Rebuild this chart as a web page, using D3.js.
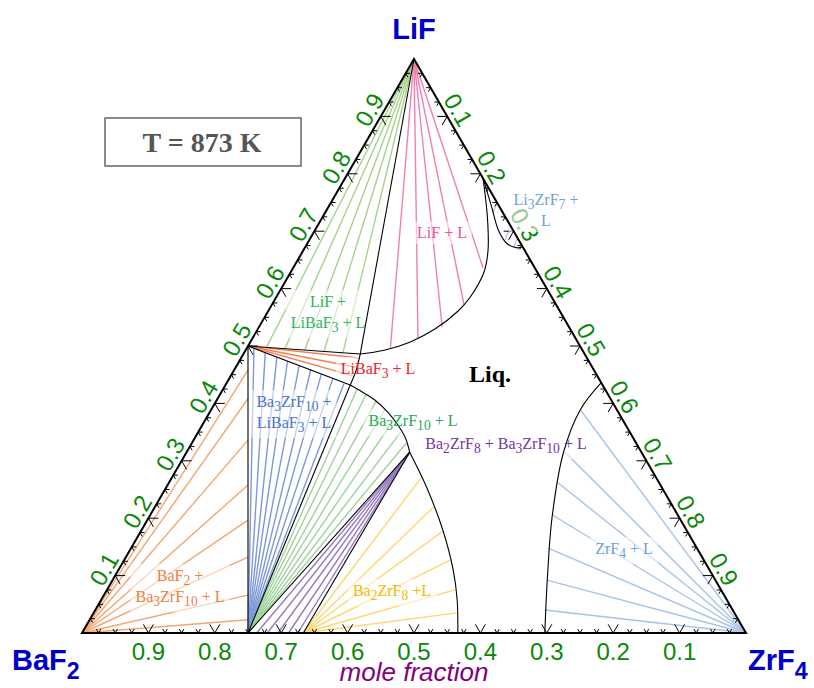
<!DOCTYPE html>
<html>
<head>
<meta charset="utf-8">
<script src="https://cdn.jsdelivr.net/npm/d3@7"></script>
<style>
  body { margin: 0; background: #fff; }
</style>
</head>
<body>
<svg id="chart" width="814" height="688"></svg>
<script>
// Compositions are [xLiF, xZrF4]; xBaF2 = 1 - xLiF - xZrF4.

// Pure components and stoichiometric compounds
const pLiF = [1, 0], pBaF2 = [0, 0], pZrF4 = [0, 1];
const pLiBaF3 = [0.5, 0], pBa3ZrF10 = [0, 0.25], pBa2ZrF8 = [0, 1 / 3], pLi3ZrF7 = [0.75, 0.25];

// Invariant liquid compositions at 873 K
const L1 = [0.486, 0.176];   // LiF + LiBaF3 + L
const L2 = [0.432, 0.188];   // LiBaF3 + Ba3ZrF10 + L
const L3 = [0.315, 0.336];   // Ba3ZrF10 + Ba2ZrF8 + L

// Liquidus boundaries
const lifLiquidus = [[0.792, 0.208], [0.725, 0.248], [0.667, 0.278], [0.629, 0.291], [0.585, 0.292],
  [0.561, 0.286], [0.530, 0.267], [0.507, 0.241], [0.493, 0.210], [0.486, 0.176]];
const li3zrf7Liquidus = [[0.792, 0.208], [0.742, 0.246], [0.702, 0.276], [0.679, 0.300], [0.671, 0.320], [0.673, 0.327]];
const libaf3Liquidus = [[0.486, 0.176], [0.458, 0.184], [0.432, 0.188]];
const ba3zrf10Liquidus = [[0.432, 0.188], [0.420, 0.212], [0.406, 0.238], [0.385, 0.268], [0.362, 0.295], [0.340, 0.317], [0.315, 0.336]];
const ba2zrf8Liquidus = [[0.315, 0.336], [0.254, 0.392], [0.179, 0.454], [0.110, 0.504], [0.058, 0.536], [0, 0.566]];
const zrf4Liquidus = [[0, 0.697], [0.098, 0.652], [0.202, 0.607], [0.314, 0.568], [0.389, 0.556], [0.436, 0.564]];

// Tie-line end compositions
const tiesLiF_L = [[0.497, 0.216], [0.514, 0.249], [0.533, 0.276], [0.571, 0.290], [0.636, 0.286]];
const tiesLiF_LiBaF3 = [[0.498, 0.029], [0.495, 0.058], [0.493, 0.089], [0.491, 0.119], [0.488, 0.149]];
const tiesLiBaF3_L = [[0.479, 0.178], [0.463, 0.181], [0.448, 0.184]];
const tiesBa3_LiBaF3 = [[0.496, 0.011], [0.488, 0.032], [0.481, 0.053], [0.473, 0.073], [0.466, 0.094],
  [0.459, 0.115], [0.451, 0.135], [0.444, 0.156], [0.436, 0.177]];
const tiesBa3_L = [[0.425, 0.202], [0.415, 0.220], [0.404, 0.241], [0.389, 0.262], [0.371, 0.284], [0.350, 0.305], [0.331, 0.323]];
const tiesBa2_Ba3 = [[0, 0.263], [0, 0.279], [0, 0.295], [0, 0.311], [0, 0.325]];
const tiesBa2_L = [[0.272, 0.376], [0.220, 0.420], [0.178, 0.455], [0.127, 0.491], [0.075, 0.524], [0.035, 0.547]];
const tiesZrF4_L = [[0.389, 0.556], [0.315, 0.570], [0.263, 0.584], [0.206, 0.605], [0.148, 0.628], [0.092, 0.654], [0.040, 0.677]];
const tiesBaF2 = [[0.458, 0.021], [0.409, 0.046], [0.336, 0.082], [0.258, 0.121], [0.197, 0.152], [0.132, 0.184], [0.066, 0.217], [0.023, 0.239]];
const tiesLi3ZrF7 = [[[0.749, 0.251], [0.732, 0.252]], [[0.709, 0.291], [0.685, 0.295]], [[0.688, 0.312], [0.674, 0.314]]];

// Axis ticks
const tickLabels = ["0.1", "0.2", "0.3", "0.4", "0.5", "0.6", "0.7", "0.8", "0.9"];
const minorStep = 0.025;

// Ternary -> screen
const xs = d3.scaleLinear().domain([0, 1]).range([82, 746]);
const ys = d3.scaleLinear().domain([0, Math.sqrt(3) / 2]).range([633, 59]);
const P = d => [xs(d[1] + d[0] / 2), ys(d[0] * Math.sqrt(3) / 2)];

const straight = d3.line().x(d => P(d)[0]).y(d => P(d)[1]);
const smooth = d3.line().x(d => P(d)[0]).y(d => P(d)[1]).curve(d3.curveCatmullRom.alpha(0.5));

const svg = d3.select("#chart");
const gTies = svg.append("g").attr("fill", "none").attr("stroke-width", 1.4);
const gTicks = svg.append("g");
const gBg = svg.append("g");
const gBounds = svg.append("g").attr("fill", "none").attr("stroke", "#000");
const gText = svg.append("g");

// ---- tie lines
function fan(from, ends, color) {
  ends.forEach(e => gTies.append("path").attr("d", straight([from, e])).attr("stroke", color));
}
fan(pLiF, tiesLiF_L, "#f080b2");
fan(pLiF, tiesLiF_LiBaF3, "#a8d28c");
fan(pLiBaF3, tiesLiBaF3_L, "#f27d50");
fan(pBa3ZrF10, tiesBa3_LiBaF3, "#7d98d8");
fan(pBa3ZrF10, tiesBa3_L, "#9fd29a");
fan(L3, tiesBa2_Ba3, "#9478c0");
fan(pBa2ZrF8, tiesBa2_L, "#ffd670");
fan(pZrF4, tiesZrF4_L, "#a6c3ea");
fan(pBaF2, tiesBaF2, "#f4a672");
tiesLi3ZrF7.forEach(s => gTies.append("path").attr("d", straight(s)).attr("stroke", "#b4cdee"));

// ---- ticks on the three edges
const nMinor = Math.round(1 / minorStep);
const edges = [
  { at: t => [0, t], dirs: [[-0.5, -0.866], [0.5, -0.866]] },          // bottom (BaF2 - ZrF4)
  { at: t => [t, 0], dirs: [[1, 0], [0.5, 0.866]] },                   // left (BaF2 - LiF)
  { at: t => [1 - t, t], dirs: [[-1, 0], [-0.5, 0.866]] }              // right (LiF - ZrF4)
];
edges.forEach(ed => {
  for (let i = 1; i < nMinor; i++) {
    const t = i * minorStep;
    const [px, py] = P(ed.at(t));
    const len = i % 4 === 0 ? 10 : 4.5;
    const d = ed.dirs.map(v => `M${px + v[0] * len},${py + v[1] * len}L${px},${py}`).join("");
    gTicks.append("path").attr("d", d).attr("stroke", "#000").attr("stroke-width", 1).attr("fill", "none");
  }
});

// ---- tick labels
const tickFont = { family: "'Liberation Sans', Arial, sans-serif", size: 24, color: "#0a880a" };
const off = 13;
function tickText(x, y, rot, lab) {
  gTicks.append("text").attr("transform", `translate(${x},${y}) rotate(${rot})`)
    .attr("text-anchor", "middle").attr("dominant-baseline", "central")
    .attr("font-family", tickFont.family).attr("font-size", tickFont.size)
    .attr("fill", tickFont.color).text(lab);
}
tickLabels.forEach(lab => {
  const v = +lab;
  const [bx, by] = P([0, 1 - v]);           // bottom axis: xBaF2
  tickText(bx, by + 18, 0, lab);
  const [lx, ly] = P([v, 0]);               // left axis: xLiF
  tickText(lx - 0.866 * off, ly - 0.5 * off, -60, lab);
  const [rx, ry] = P([1 - v, v]);           // right axis: xZrF4
  tickText(rx + 0.866 * off, ry - 0.5 * off, 60, lab);
});

// ---- phase boundaries
[[pLiF, L1], [pLiBaF3, L1], [pLiBaF3, L2], [pLiBaF3, pBa3ZrF10], [pBa3ZrF10, L2], [pBa3ZrF10, L3], [pBa2ZrF8, L3]]
  .forEach(s => gBounds.append("path").attr("d", straight(s)).attr("stroke-width", 1.1));
[lifLiquidus, li3zrf7Liquidus, libaf3Liquidus, ba3zrf10Liquidus, ba2zrf8Liquidus, zrf4Liquidus]
  .forEach(c => gBounds.append("path").attr("d", smooth(c)).attr("stroke-width", 1.1));
gBounds.append("path").attr("d", straight([pBaF2, pZrF4, pLiF, pBaF2]) + "Z")
  .attr("stroke-width", 2).attr("stroke-linejoin", "miter");

// ---- text with chemical subscripts ("_n" marks a subscript)
function rich(g, x, y, str, o) {
  const t = g.append("text").attr("x", x).attr("y", y).attr("text-anchor", o.anchor || "middle")
    .attr("font-family", o.family).attr("font-size", o.size).attr("fill", o.color)
    .attr("font-weight", o.weight || "normal").attr("font-style", o.style || "normal");
  const parts = str.split(/(_\d+)/).filter(s => s.length);
  const sh = o.size * (o.subShift || 0.25);
  let inSub = false;
  parts.forEach(p => {
    if (p[0] === "_") {
      t.append("tspan").attr("dy", sh).attr("font-size", o.size * (o.subScale || 0.85)).text(p.slice(1));
      inSub = true;
    } else {
      t.append("tspan").attr("dy", inSub ? -sh : 0).text(p);
      inSub = false;
    }
  });
  return t;
}

const serif = "'Liberation Serif', 'Times New Roman', serif";
const regionLabels = [
  { lines: ["LiF + L"], x: 442, y: 238, color: "#f0509a" },
  { lines: ["Li_3ZrF_7 +", "L"], x: 546, y: 205, color: "#6fa3da" },
  { lines: ["LiF +", "LiBaF_3 + L"], x: 328, y: 307, color: "#2fb35c" },
  { lines: ["LiBaF_3 + L"], x: 378, y: 374, color: "#ee2222" },
  { lines: ["Ba_3ZrF_10 +", "LiBaF_3 + L"], x: 294, y: 407, color: "#4a74c9" },
  { lines: ["Ba_3ZrF_10 + L"], x: 413, y: 426, color: "#22aa55" },
  { lines: ["Ba_2ZrF_8 + Ba_3ZrF_10 + L"], x: 506, y: 449, color: "#7434a4" },
  { lines: ["ZrF_4 + L"], x: 624, y: 554, color: "#6fa3da" },
  { lines: ["Ba_2ZrF_8 +L"], x: 392, y: 596, color: "#f5b800" },
  { lines: ["BaF_2 +", "Ba_3ZrF_10 + L"], x: 180, y: 581, color: "#f08040" }
];
regionLabels.forEach(lb => {
  const g = gText.append("g");
  lb.lines.forEach((s, i) => rich(g, lb.x, lb.y + i * 21, s, { family: serif, size: 16, color: lb.color }));
  const bb = g.node().getBBox();
  gBg.append("rect").attr("x", bb.x - 5).attr("y", bb.y - 3).attr("width", bb.width + 10)
    .attr("height", bb.height + 6).attr("fill", "#fff").attr("fill-opacity", 0.55);
});

// liquid field
gText.append("text").attr("x", 490).attr("y", 382).attr("text-anchor", "middle")
  .attr("font-family", serif).attr("font-size", 24).attr("font-weight", "bold").attr("fill", "#000").text("Liq.");

// ---- component names
const compFont = { family: "'Liberation Sans', Arial, sans-serif", size: 29, color: "#0000c8", weight: "bold", subShift: 0.3, subScale: 0.8 };
rich(gText, 414, 39, "LiF", compFont);
rich(gText, 12, 670, "BaF_2", Object.assign({}, compFont, { anchor: "start" }));
rich(gText, 748, 670, "ZrF_4", Object.assign({}, compFont, { anchor: "start" }));

gText.append("text").attr("x", 414).attr("y", 681).attr("text-anchor", "middle")
  .attr("font-family", "'Liberation Sans', Arial, sans-serif").attr("font-size", 26)
  .attr("font-style", "italic").attr("fill", "#800080").text("mole fraction");

// ---- temperature box
gText.append("rect").attr("x", 105).attr("y", 118).attr("width", 196).attr("height", 48)
  .attr("fill", "#fff").attr("stroke", "#666").attr("stroke-width", 1.5);
gText.append("text").attr("x", 202).attr("y", 152).attr("text-anchor", "middle")
  .attr("font-family", serif).attr("font-size", 28).attr("font-weight", "bold").attr("fill", "#555")
  .text("T = 873 K");
</script>
</body>
</html>
